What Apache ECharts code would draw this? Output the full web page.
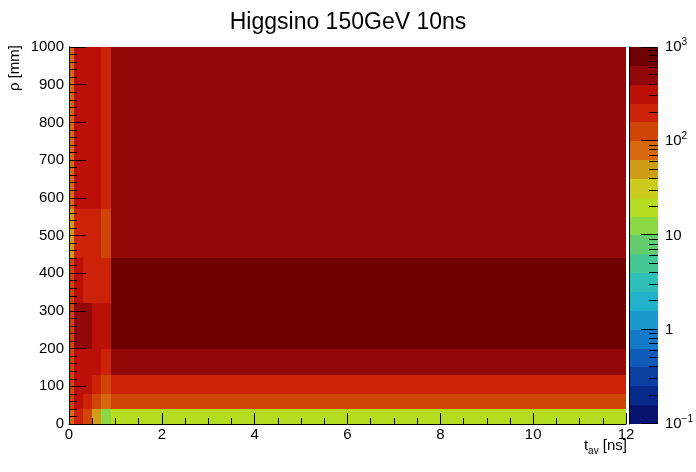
<!DOCTYPE html>
<html>
<head>
<meta charset="utf-8">
<script src="https://cdn.jsdelivr.net/npm/echarts@6/dist/echarts.min.js"></script>
<style>
  html, body { margin: 0; padding: 0; background: #fff; }
  #chart { width: 696px; height: 472px; }
</style>
</head>
<body>
<div id="chart"></div>
<script>
// bin edges of the 2D histogram
const tEdges = [0, 0.1, 0.3, 0.5, 0.7, 0.9, 12];
const rhoEdges = [0, 40, 80, 130, 200, 320, 440, 570, 1000];
// counts per rho bin (bottom to top), one value per t bin
const counts = [
  [80, 200, 125, 50, 13, 20],
  [125, 320, 200, 125, 80, 125],
  [125, 320, 320, 200, 125, 200],
  [125, 320, 320, 320, 200, 500],
  [125, 500, 500, 320, 320, 800],
  [125, 320, 200, 200, 200, 800],
  [50, 200, 200, 200, 125, 500],
  [80, 320, 320, 320, 200, 500]
];
const zMin = 0.1, zMax = 1000;
// 20 contour colours, low to high
const palette = [
  '#07136e', '#082a8a', '#0b40a0', '#0f5cb8', '#1479c8',
  '#1a97cc', '#21b1cc', '#2dbfb8', '#45c794', '#63cc6c',
  '#8cd844', '#b4dd22', '#cdcb1e', '#cf9c16', '#d8680e',
  '#cf4508', '#cc2208', '#ba1008', '#920808', '#6e0000'
];
const font = 'Liberation Sans, Helvetica, Arial, sans-serif';

const nLev = palette.length;
const lMin = Math.log10(zMin), lMax = Math.log10(zMax);
function colorFor(v) {
  let k = Math.floor((Math.log10(v) - lMin) / (lMax - lMin) * nLev);
  k = Math.max(0, Math.min(nLev - 1, k));
  return palette[k];
}

// cells
const cells = [];
counts.forEach((row, j) => {
  row.forEach((v, i) => {
    cells.push([tEdges[i], tEdges[i + 1], rhoEdges[j], rhoEdges[j + 1], v]);
  });
});

// colour bar bands
const bands = palette.map((c, i) => [
  Math.pow(10, lMin + (lMax - lMin) * i / nLev),
  Math.pow(10, lMin + (lMax - lMin) * (i + 1) / nLev),
  i
]);
// colour bar ticks: [value, length in px] (decades long, 2..9 short)
const barTicks = [];
for (let e = Math.round(lMin); e <= Math.round(lMax); e++) {
  barTicks.push([Math.pow(10, e), 17]);
  if (e < Math.round(lMax)) {
    for (let m = 2; m <= 9; m++) barTicks.push([m * Math.pow(10, e), 9]);
  }
}

function supLabel(v) {
  const e = Math.round(Math.log10(v));
  if (e === 0) return '{b|1}';
  if (e === 1) return '{b|10}';
  return '{b|10}{s|' + (e < 0 ? '\u2212' + (-e) : e) + '}';
}

// integer-snapped rectangle between two data corners
function cellRect(p0, p1, fill) {
  const x0 = Math.round(p0[0]), x1 = Math.round(p1[0]);
  const y0 = Math.round(p0[1]), y1 = Math.round(p1[1]);
  return {
    type: 'rect',
    shape: { x: x0, y: y1, width: x1 - x0, height: y0 - y1 },
    style: { fill: fill }
  };
}

const chart = echarts.init(document.getElementById('chart'), null, { renderer: 'canvas' });
const options = {
  animation: false,
  backgroundColor: '#fff',
  title: {
    text: 'Higgsino 150GeV 10ns',
    left: 'center',
    top: 6,
    textStyle: { fontFamily: font, fontSize: 23, fontWeight: 'normal', color: '#000' }
  },
  grid: [
    { left: 69, top: 47, width: 557, height: 377 },
    { left: 629, top: 47, width: 32, height: 377 }
  ],
  xAxis: [
    {
      type: 'value', gridIndex: 0, min: 0, max: 12, interval: 2, z: 10,
      axisLine: { onZero: false, lineStyle: { color: '#000', width: 1 } },
      axisTick: { inside: true, length: 11, lineStyle: { color: '#000' } },
      minorTick: { show: true, splitNumber: 4, length: 6, lineStyle: { color: '#000' } },
      axisLabel: { color: '#000', fontFamily: font, fontSize: 15, margin: 3 },
      splitLine: { show: false }
    },
    { type: 'value', gridIndex: 1, min: 0, max: 1, show: false }
  ],
  yAxis: [
    {
      type: 'value', gridIndex: 0, min: 0, max: 1000, interval: 100, z: 10,
      axisLine: { onZero: false, lineStyle: { color: '#000', width: 1 } },
      axisTick: { inside: true, length: 17, lineStyle: { color: '#000' } },
      minorTick: { show: true, splitNumber: 5, length: 8, lineStyle: { color: '#000' } },
      axisLabel: {
        color: '#000', fontFamily: font, fontSize: 15, margin: 5,
        formatter: function (v) { return String(v); }
      },
      splitLine: { show: false }
    },
    {
      type: 'log', gridIndex: 1, min: zMin, max: zMax, logBase: 10, position: 'right', z: 10,
      axisLine: { show: true, lineStyle: { color: '#000', width: 1 } },
      axisTick: { show: false },
      axisLabel: {
        color: '#000', fontFamily: font, margin: 7,
        formatter: supLabel,
        rich: {
          b: { fontFamily: font, fontSize: 15, lineHeight: 20, color: '#000' },
          s: { fontFamily: font, fontSize: 10, lineHeight: 10, verticalAlign: 'top', color: '#000' }
        }
      },
      splitLine: { show: false }
    },
    {
      type: 'value', gridIndex: 0, min: 0, max: 1000, position: 'right', z: 10,
      axisLine: { show: true, lineStyle: { color: '#000', width: 1 } },
      axisTick: { show: false }, axisLabel: { show: false }, splitLine: { show: false }
    }
  ],
  graphic: [
    {
      type: 'text', x: 627, y: 446,
      style: {
        text: '{a|t}{b|av}{a| [ns]}', align: 'right', verticalAlign: 'middle',
        rich: {
          a: { fontFamily: font, fontSize: 15, lineHeight: 20, color: '#000' },
          b: { fontFamily: font, fontSize: 10, lineHeight: 10, verticalAlign: 'bottom', color: '#000' }
        }
      }
    },
    {
      type: 'text', x: 15, y: 45, rotation: Math.PI / 2,
      style: {
        text: 'ρ [mm]', align: 'right', verticalAlign: 'middle',
        fontFamily: font, fontSize: 15, fill: '#000'
      }
    }
  ],
  series: [
    {
      type: 'custom',
      xAxisIndex: 0, yAxisIndex: 0,
      data: cells,
      encode: { x: [0, 1], y: [2, 3] },
      z: 1,
      renderItem: function (params, api) {
        const p0 = api.coord([api.value(0), api.value(2)]);
        const p1 = api.coord([api.value(1), api.value(3)]);
        return cellRect(p0, p1, colorFor(api.value(4)));
      }
    },
    {
      type: 'custom',
      xAxisIndex: 1, yAxisIndex: 1,
      data: bands,
      encode: { y: [0, 1] },
      z: 1,
      renderItem: function (params, api) {
        const p0 = api.coord([0, api.value(0)]);
        const p1 = api.coord([1, api.value(1)]);
        return cellRect(p0, p1, palette[api.value(2)]);
      }
    },
    {
      type: 'custom',
      xAxisIndex: 1, yAxisIndex: 1,
      data: barTicks,
      encode: { y: 0 },
      z: 12,
      clip: false,
      renderItem: function (params, api) {
        const p = api.coord([1, api.value(0)]);
        const len = api.value(1);
        const x = Math.round(p[0]);
        const y = Math.round(p[1]) + (api.value(0) >= zMax * 0.999 ? 0.5 : -0.5);
        return {
          type: 'line',
          shape: { x1: x - len, y1: y, x2: x, y2: y },
          style: { stroke: '#000', lineWidth: 1 }
        };
      }
    }
  ]
};
chart.setOption(options);
window.addEventListener('resize', function () {
  chart && chart.resize();
});
</script>
</body>
</html>
